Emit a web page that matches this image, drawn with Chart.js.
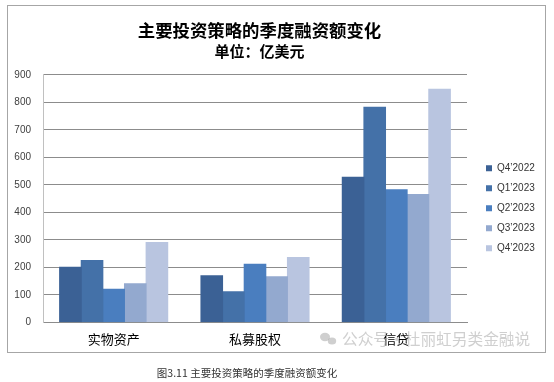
<!DOCTYPE html>
<html>
<head>
<meta charset="utf-8">
<script src="https://cdn.jsdelivr.net/npm/chart.js@4/dist/chart.umd.min.js"></script>
<style>
html,body{margin:0;padding:0;background:#fff;}
canvas{display:block;}
</style>
</head>
<body>
<canvas id="c" width="554" height="382" style="width:554px;height:382px"></canvas>
<script>
const titleText = "主要投资策略的季度融资额变化";
const subtitleText = "单位：亿美元";
const captionText = "图3.11 主要投资策略的季度融资额变化";
const watermarkText = "公众号·杜丽虹另类金融说";
const categories = ["实物资产", "私募股权", "信贷"];
const seriesNames = ["Q4’2022", "Q1’2023", "Q2’2023", "Q3’2023", "Q4’2023"];
const q4_2022 = [200, 169, 527];
const q1_2023 = [225, 111, 782];
const q2_2023 = [120, 211, 482];
const q3_2023 = [140, 166, 465];
const q4_2023 = [290, 236, 847];
const yTicks = [0, 100, 200, 300, 400, 500, 600, 700, 800, 900];
const seriesColors = ["#3B6195", "#4471A8", "#4A7EBF", "#93A9CF", "#B9C5E0"];

const seriesValues = [q4_2022, q1_2023, q2_2023, q3_2023, q4_2023];

const cjk = "'Noto Sans CJK SC', sans-serif";
const latin = "'Liberation Sans', 'Noto Sans CJK SC', sans-serif";
Chart.defaults.font.family = latin;

const decor = {
  id: 'decor',
  afterLayout(chart) {
    const lg = chart.legend;
    if (lg) { lg.left += 9; lg.right += 9; lg.top += 22; lg.bottom += 22; }
    chart.boxes.forEach(b => {
      if (b.options && (b.options.text === titleText || b.options.text === subtitleText)) {
        b.left -= 7.5; b.right -= 7.5;
      }
    });
  },
  beforeDraw(chart) {
    const ctx = chart.ctx;
    ctx.save();
    ctx.fillStyle = '#fff';
    ctx.fillRect(0, 0, chart.width, chart.height);
    ctx.strokeStyle = '#a6a6a6';
    ctx.lineWidth = 1;
    ctx.strokeRect(7.5, 5.5, 538, 347);
    ctx.restore();
  },
  afterDraw(chart) {
    const ctx = chart.ctx;
    ctx.save();
    ctx.fillStyle = '#333';
    ctx.font = "10.5px " + cjk;
    ctx.textAlign = 'center';
    ctx.textBaseline = 'middle';
    ctx.fillText(captionText, 247, 373);
    ctx.globalAlpha = 0.5;
    ctx.fillStyle = '#a0a0a0';
    ctx.beginPath(); ctx.ellipse(325, 337, 5, 4.2, 0, 0, Math.PI * 2); ctx.fill();
    ctx.beginPath(); ctx.ellipse(332, 341, 4.2, 3.5, 0, 0, Math.PI * 2); ctx.fill();
    ctx.font = "15.7px " + cjk;
    ctx.textAlign = 'left';
    ctx.fillText(watermarkText, 342, 339);
    ctx.restore();
  }
};

new Chart(document.getElementById('c'), {
  type: 'bar',
  data: {
    labels: categories,
    datasets: seriesNames.map((n, i) => ({
      label: n,
      data: seriesValues[i],
      backgroundColor: seriesColors[i],
      borderWidth: 0,
      inflateAmount: 0.5,
      barPercentage: 1,
      categoryPercentage: 0.765
    }))
  },
  options: {
    responsive: false,
    devicePixelRatio: 1,
    animation: false,
    layout: { padding: { left: 7, right: 27, top: 20, bottom: 29.7 } },
    plugins: {
      title: {
        display: true,
        text: titleText,
        color: '#000',
        font: { family: cjk, size: 17.4, weight: 'bold', lineHeight: 1.2 },
        padding: { top: 0, bottom: 0 }
      },
      subtitle: {
        display: true,
        text: subtitleText,
        color: '#000',
        font: { family: cjk, size: 15, weight: 'bold', lineHeight: 1.2 },
        padding: { top: 1.6, bottom: 14.3 }
      },
      legend: {
        position: 'right',
        maxWidth: 60,
        labels: {
          boxWidth: 6,
          boxHeight: 6,
          padding: 10,
          color: '#333',
          font: { size: 10 }
        }
      },
      tooltip: { enabled: false }
    },
    scales: {
      x: {
        afterFit(s) { s.height = 30; },
        grid: { display: false, drawTicks: false },
        border: { display: true, color: '#8c8c8c', width: 1 },
        ticks: { color: '#000', padding: 9, font: { family: cjk, size: 13 } }
      },
      y: {
        min: 0,
        max: 900,
        afterFit(s) { s.width = 36; },
        afterBuildTicks(s) { s.ticks = yTicks.map(v => ({ value: v })); },
        grid: { color: '#8c8c8c', lineWidth: 1, drawTicks: false },
        border: { display: true, color: '#c0c0c0', width: 1 },
        ticks: { color: '#404040', padding: 12, font: { size: 10 } }
      }
    }
  },
  plugins: [decor]
});
</script>
</body>
</html>
